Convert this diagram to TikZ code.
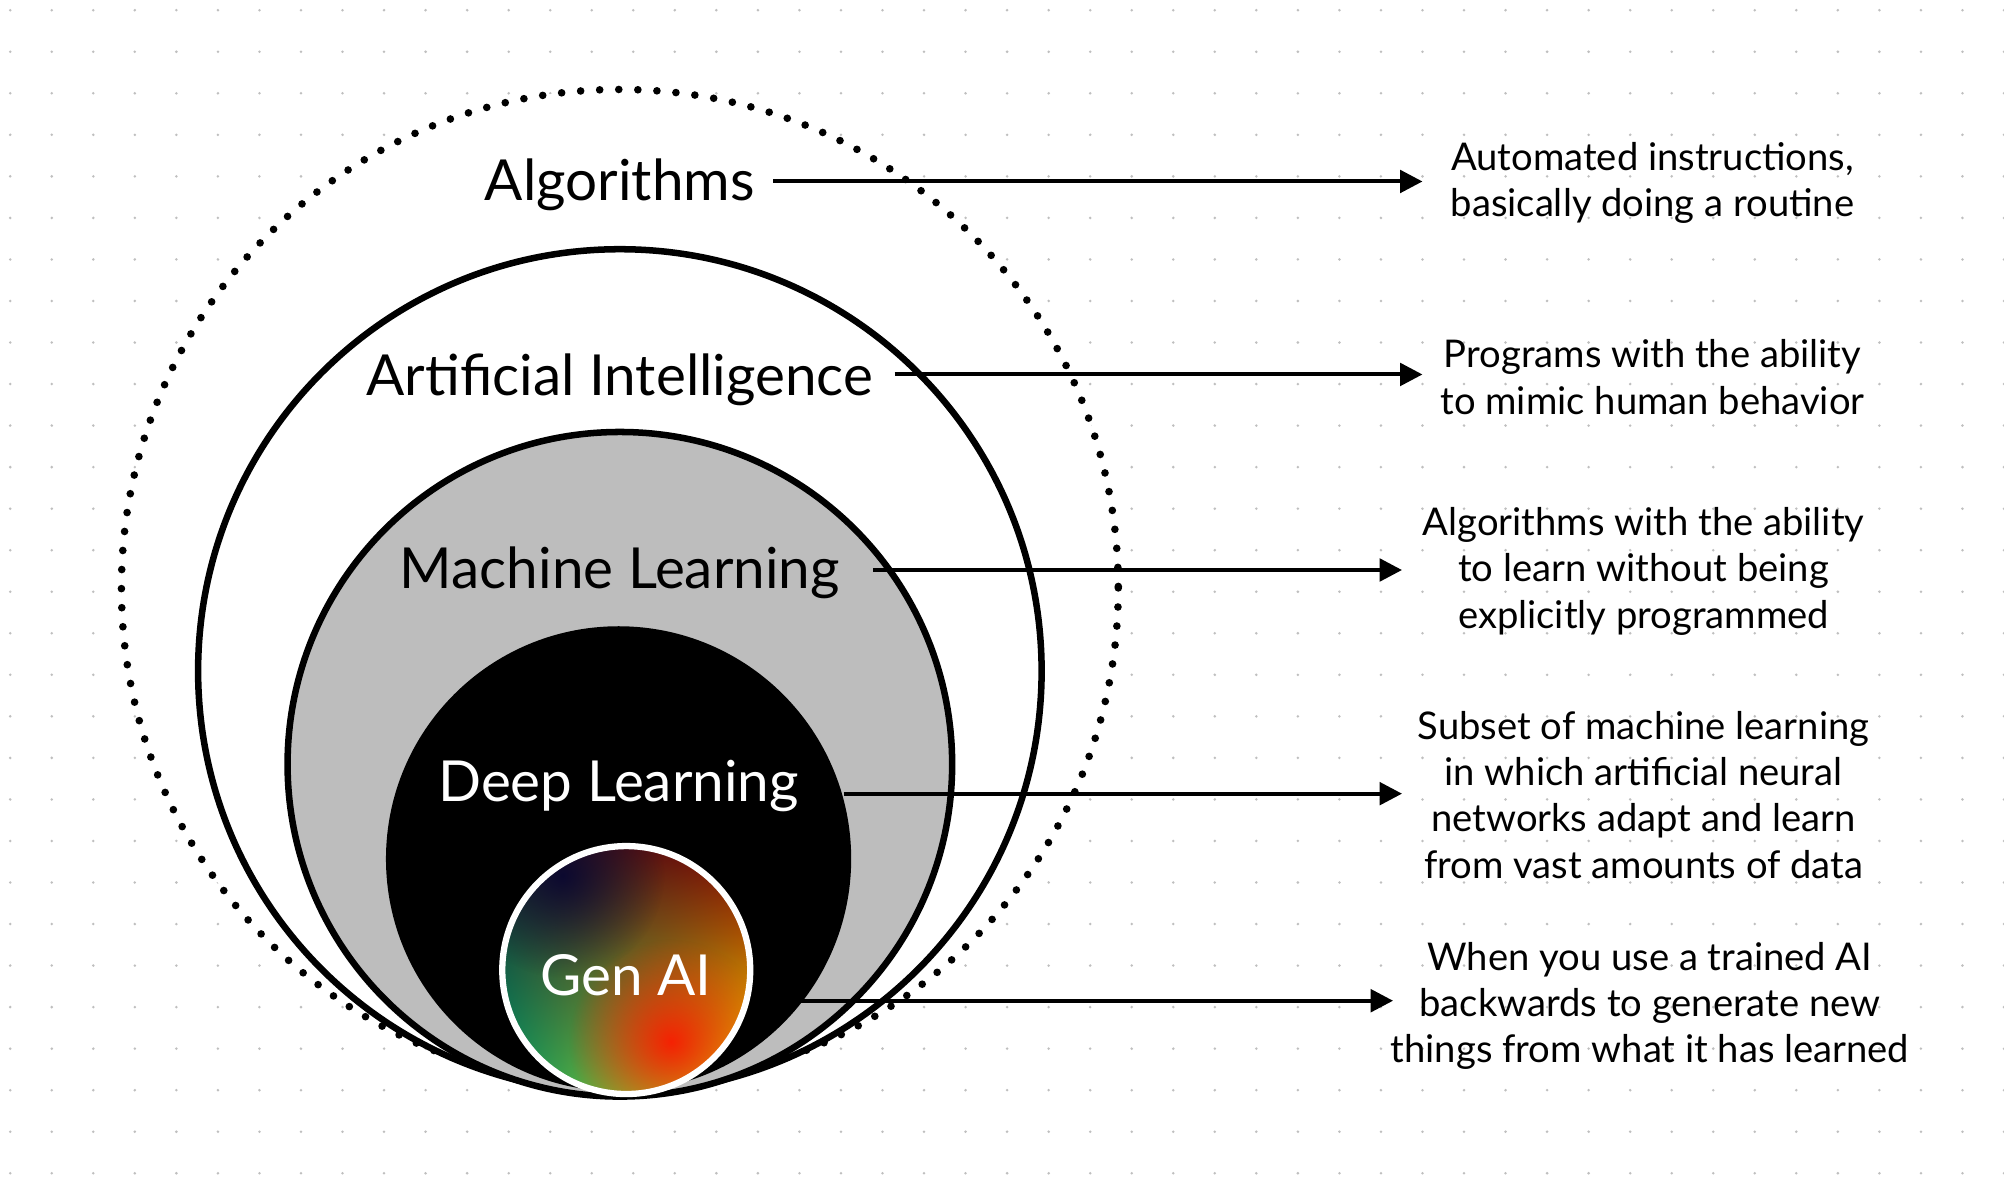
\documentclass[tikz,border=0pt]{standalone}
\usepackage{fontspec}
\setmainfont{Lato}
\usetikzlibrary{arrows.meta,shadings,fadings}
\tikzfading[name=softspot, inner color=transparent!0, outer color=transparent!100]
\begin{document}
\begin{tikzpicture}[x=0.1mm,y=-0.1mm,
  ring/.style={line width=1.45pt},
  big/.style={font=\fontsize{12.6}{14}\selectfont},
  desc/.style={font=\fontsize{8.5}{10.3}\selectfont,align=center},
  arr/.style={line width=0.9pt,-{Triangle[length=5pt,width=5pt]}}]
\useasboundingbox (0,0) rectangle (1568,935);
\fill[white] (0,0) rectangle (1568,935);
\foreach \i in {0,...,48}{\foreach \j in {0,...,28}{
  \fill[black!25] (8+32.5*\i,8+32.5*\j) circle (1.1);}}
% circles
\fill[white] (485,460) circle (390);
\draw[line width=1.7pt,line cap=round,dash pattern=on 0pt off 4.25pt] (485,460) circle (390);
\draw[ring,fill=white] (485,525) circle (330);
\draw[ring,fill=black!26] (485,598) circle (260);
\fill[black] (484,672) circle (182);
\begin{scope}
\clip (490,759) circle (97);
\shade[upper left=black!85, upper right=red!50!black, lower left=teal!80!green, lower right=yellow!80!orange] (393,662) rectangle (587,856);
\fill[red!85!orange,path fading=softspot,opacity=0.9] (525,815) circle (80);
\fill[black!80!blue,path fading=softspot,opacity=0.8] (440,685) circle (80);
\end{scope}
\draw[white,line width=1.4pt] (490,759) circle (97);
% labels
\node[big] (alg) at (485,145) {Algorithms};
\node[big] (ai) at (485,297) {Artificial Intelligence};
\node[big] (ml) at (485,448) {Machine Learning};
\node[big,white] (dl) at (484,615) {Deep Learning};
\node[big,white] (gen) at (490,763) {Gen AI};
% descriptions
\node[desc] (d1) at (1293,143) {Automated instructions,\\basically doing a routine};
\node[desc] (d2) at (1293,295) {Programs with the ability\\to mimic human behavior};
\node[desc] (d3) at (1286,447) {Algorithms with the ability\\to learn without being\\explicitly programmed};
\node[desc] (d4) at (1286,622) {Subset of machine learning\\in which artificial neural\\networks adapt and learn\\from vast amounts of data};
\node[desc] (d5) at (1291,787) {When you use a trained AI\\backwards to generate new\\things from what it has learned};
\coordinate (s1) at (605,142); \coordinate (e1) at (1113,142);
\coordinate (s2) at (700,293); \coordinate (e2) at (1113,293);
\coordinate (s3) at (683,446); \coordinate (e3) at (1097,446);
\coordinate (s4) at (660,621); \coordinate (e4) at (1097,621);
\coordinate (s5) at (625,783); \coordinate (e5) at (1090,783);
\draw[arr] (s1) -- (e1);
\draw[arr] (s2) -- (e2);
\draw[arr] (s3) -- (e3);
\draw[arr] (s4) -- (e4);
\draw[arr] (s5) -- (e5);
\end{tikzpicture}
\end{document}
